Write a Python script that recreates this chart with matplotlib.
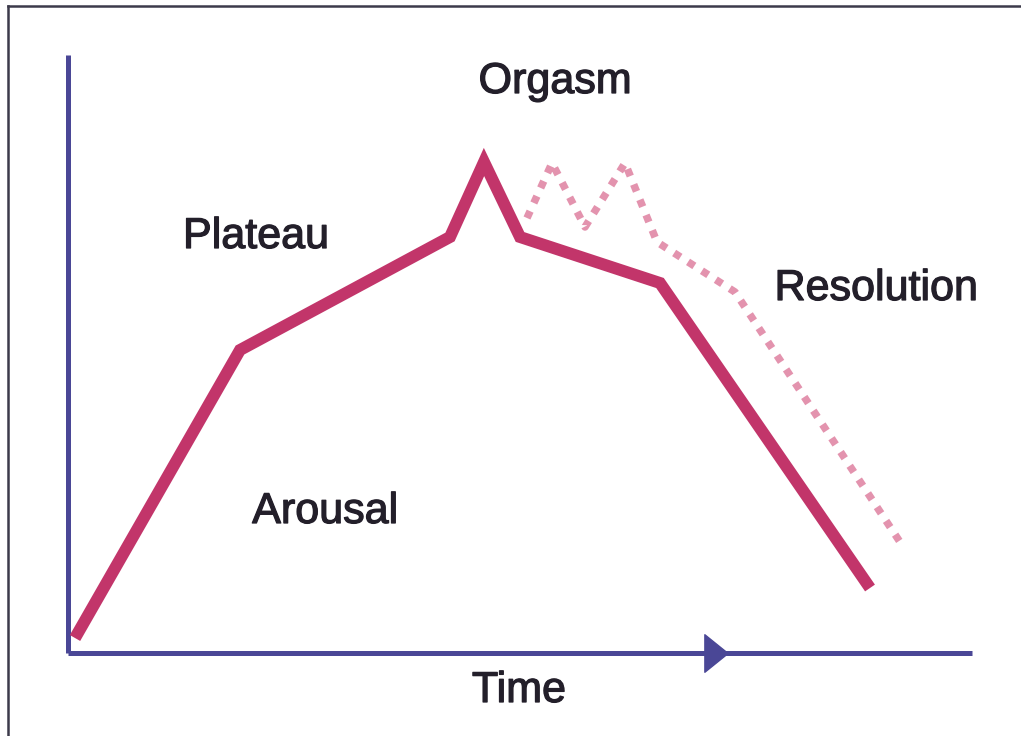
import numpy as np
import matplotlib.pyplot as plt
import matplotlib.patheffects as pe
from matplotlib.lines import Line2D
from matplotlib.path import Path

# Sexual response cycle sketch (time vs. arousal, arbitrary units)
solid_t = [7, 172, 382, 416, 452, 592, 802]
solid_level = [15, 303, 416, 491, 416, 370, 65]

dotted_t = [459, 484, 517, 557, 589, 667, 832]
dotted_level = [435, 490, 426, 490, 411, 361, 111]

labels = ["Orgasm", "Plateau", "Arousal", "Resolution", "Time"]
label_t = [487, 188, 257, 808, 451]
label_level = [560, 405, 130, 353, -49]

axis_len_t = 904
axis_len_level = 598
arrow_t = 648

AXIS_C = "#4a4796"
SOLID_C = "#c2356a"
DOT_C = "#e393ae"
TEXT_C = "#231f2a"

fig = plt.figure(figsize=(10.21, 7.36), dpi=100)
ax = fig.add_axes([0, 0, 1, 1])
ax.set_xlim(-68, 953)
ax.set_ylim(-83, 653)
ax.axis("off")

# axes drawn as lines
ax.plot([0, 0], [0, axis_len_level], color=AXIS_C, lw=3.6, solid_capstyle="butt")
ax.plot([0, axis_len_t], [0, 0], color=AXIS_C, lw=3.6, solid_capstyle="butt")
head = Path([(-0.62, -1), (0.62, 0), (-0.62, 1), (-0.62, -1)],
            [Path.MOVETO, Path.LINETO, Path.LINETO, Path.CLOSEPOLY])
ax.plot([arrow_t], [0], marker=head, markersize=27, color=AXIS_C, lw=0)

# response curves
ax.plot(dotted_t, dotted_level, color=DOT_C, lw=5.4, linestyle=(0, (1, 1.2)),
        dash_capstyle="butt", solid_joinstyle="miter")
ax.plot(solid_t, solid_level, color=SOLID_C, lw=8.6, solid_joinstyle="miter",
        solid_capstyle="butt")

for txt, x, y in zip(labels, label_t, label_level):
    ax.text(x, y, txt, fontsize=31, color=TEXT_C, ha="center", va="baseline",
            family=["Liberation Sans", "DejaVu Sans"],
            path_effects=[pe.withStroke(linewidth=0.9, foreground=TEXT_C)])

# scanned frame (top and left edges)
fig.add_artist(Line2D([8 / 1021, 1], [1 - 6 / 736, 1 - 6 / 736],
                      transform=fig.transFigure, color="#3c3a4a", lw=1.8))
fig.add_artist(Line2D([8 / 1021, 8 / 1021], [0, 1 - 6 / 736],
                      transform=fig.transFigure, color="#3c3a4a", lw=1.8))

fig.savefig("out.png", dpi=100)
